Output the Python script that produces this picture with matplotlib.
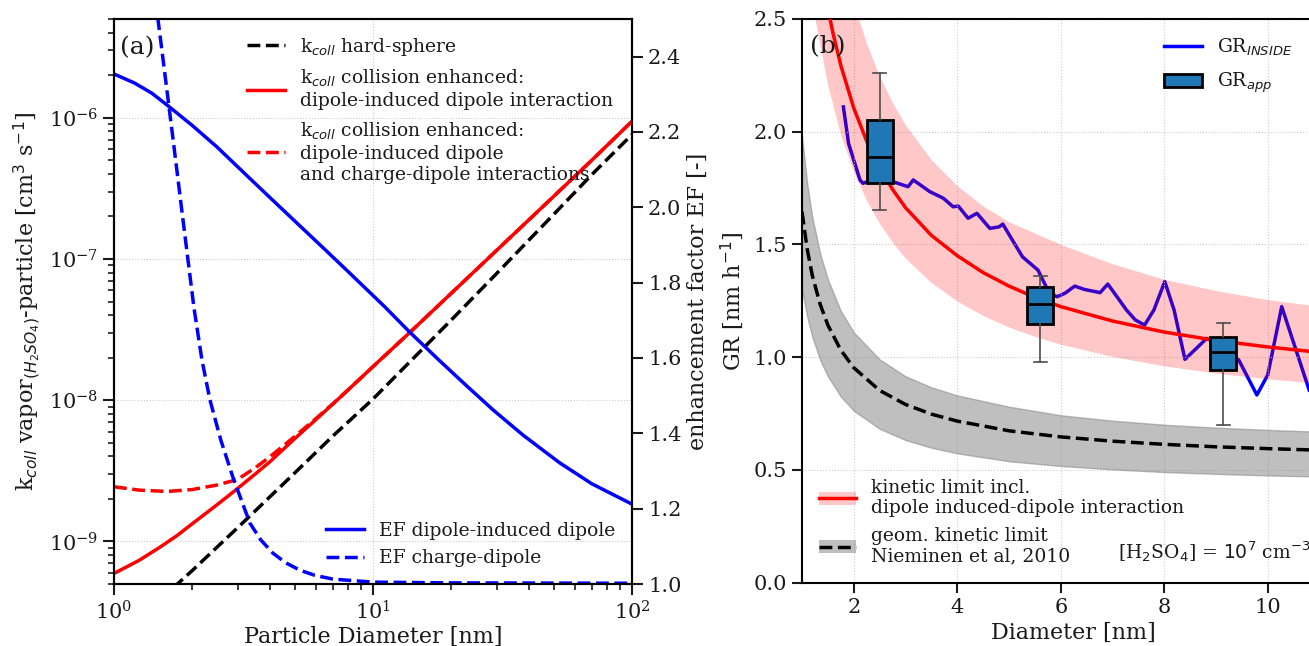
import matplotlib
matplotlib.use("Agg")
import matplotlib.pyplot as plt
from matplotlib.lines import Line2D
from matplotlib.patches import Patch

plt.rcParams['font.family'] = 'serif'
plt.rcParams['font.serif'] = ['DejaVu Serif']
plt.rcParams['mathtext.fontset'] = 'dejavusans'
plt.rcParams['axes.linewidth'] = 1.5
plt.rcParams['text.color'] = '0.1'
plt.rcParams['axes.labelcolor'] = '0.1'
plt.rcParams['xtick.color'] = '0.1'
plt.rcParams['ytick.color'] = '0.1'

# ---- panel (a): collision rate coefficients vs particle diameter ----
d_hs = [1.5, 2, 3, 5, 7, 10, 15, 20, 30, 50, 70, 100]
k_hard_sphere = [3.84e-10, 6.2e-10, 1.25e-9, 3.07e-9, 5.58e-9, 1.02e-8, 2.16e-8,
                 3.68e-8, 7.88e-8, 2.08e-7, 3.96e-7, 7.6e-7]

d_k = [1, 1.25, 1.5, 1.75, 2, 2.5, 2.93, 3.5, 4, 5, 6, 7, 8, 10, 13.8, 20, 30, 50,
       70, 100]
k_dipole = [5.94e-10, 7.35e-10, 9.08e-10, 1.10e-9, 1.33e-9, 1.82e-9, 2.29e-9,
            2.99e-9, 3.67e-9, 5.37e-9, 7.26e-9, 9.40e-9, 1.18e-8, 1.73e-8, 2.99e-8,
            5.69e-8, 1.15e-7, 2.79e-7, 5.01e-7, 9.44e-7]

d_kc = [1, 1.25, 1.6, 2, 2.5, 3, 3.5, 4, 5, 6, 7, 8, 10, 13.8, 20, 30, 50, 70, 100]
k_dipole_charge = [2.44e-9, 2.31e-9, 2.26e-9, 2.33e-9, 2.51e-9, 2.75e-9, 3.31e-9,
                   3.98e-9, 5.56e-9, 7.38e-9, 9.44e-9, 1.18e-8, 1.73e-8, 2.99e-8,
                   5.69e-8, 1.15e-7, 2.79e-7, 5.01e-7, 9.44e-7]

d_ef = [1, 1.2, 1.4, 1.6, 2, 2.5, 3.25, 4, 5, 6.5, 8, 11.1, 13.8, 18, 23, 29.1, 38,
        52.5, 70, 100]
ef_dipole = [2.354, 2.330, 2.303, 2.272, 2.218, 2.160, 2.085, 2.026, 1.963, 1.889,
             1.830, 1.736, 1.670, 1.594, 1.526, 1.462, 1.395, 1.322, 1.266, 1.212]

d_efc = [1.377, 1.478, 1.586, 1.703, 1.828, 2.036, 2.185, 2.346, 2.585, 2.876,
         3.345, 3.688, 4.105, 4.61, 5.21, 5.96, 7.0, 10, 19.8, 100]
ef_charge = [2.673, 2.5, 2.333, 2.163, 1.991, 1.733, 1.595, 1.489, 1.382, 1.284,
             1.162, 1.117, 1.082, 1.056, 1.037, 1.023, 1.013, 1.005, 1.003, 1.002]

# ---- panel (b): growth rates vs diameter ----
d_kin = [1.5, 1.6, 1.75, 2, 2.25, 2.5, 2.75, 3, 3.5, 4, 4.5, 5, 5.5, 6, 7, 8, 9,
         10, 11, 12]
gr_kin = [2.547, 2.436, 2.294, 2.105, 1.958, 1.84, 1.744, 1.663, 1.54, 1.45,
          1.375, 1.315, 1.265, 1.224, 1.16, 1.111, 1.074, 1.045, 1.021, 1.001]

d_band = [1.25, 1.5, 1.75, 2, 2.25, 2.5, 2.75, 3, 3.5, 4, 4.5, 5, 5.5, 6, 7, 8, 9,
          10, 11, 12]
gr_kin_up = [3.54, 3.11, 2.80, 2.57, 2.39, 2.245, 2.128, 2.03, 1.875, 1.76, 1.67,
             1.60, 1.55, 1.50, 1.414, 1.345, 1.295, 1.255, 1.225, 1.20]
gr_kin_lo = [2.5, 2.203, 1.984, 1.821, 1.694, 1.592, 1.509, 1.438, 1.33, 1.248,
             1.184, 1.133, 1.092, 1.057, 1.003, 0.961, 0.929, 0.904, 0.883, 0.866]

d_geo = [1.0, 1.1, 1.2, 1.35, 1.5, 1.75, 2, 2.5, 3, 3.5, 4, 5, 6, 7, 8, 9, 10, 11,
         12]
gr_geo = [1.645, 1.48, 1.361, 1.235, 1.142, 1.031, 0.953, 0.852, 0.79, 0.747, 0.716,
          0.673, 0.646, 0.627, 0.613, 0.602, 0.594, 0.587, 0.581]
gr_geo_up = [1.98, 1.77, 1.62, 1.46, 1.345, 1.205, 1.11, 0.99, 0.915, 0.866, 0.83,
             0.78, 0.742, 0.718, 0.70, 0.687, 0.677, 0.669, 0.662]
gr_geo_lo = [1.3, 1.18, 1.089, 0.988, 0.914, 0.825, 0.762, 0.682, 0.632, 0.598,
             0.573, 0.538, 0.517, 0.502, 0.49, 0.482, 0.475, 0.47, 0.465]

d_inside = [1.80, 1.9, 2.02, 2.12, 2.18, 2.31, 2.5, 2.76, 3.05, 3.15, 3.47, 3.73,
            3.92, 4.02, 4.21, 4.38, 4.63, 4.81, 4.88, 5.26, 5.56, 5.78, 5.93, 6.08,
            6.27, 6.46, 6.76, 6.91, 7.27, 7.44, 7.62, 7.8, 8.01, 8.19, 8.40, 8.82,
            9.1, 9.44, 9.79, 10.0, 10.27, 10.8]
gr_inside = [2.11, 1.948, 1.86, 1.786, 1.771, 1.783, 1.78, 1.778, 1.756, 1.786,
             1.734, 1.705, 1.667, 1.67, 1.616, 1.638, 1.571, 1.578, 1.59, 1.445,
             1.386, 1.283, 1.268, 1.283, 1.315, 1.30, 1.286, 1.324, 1.209, 1.165,
             1.142, 1.209, 1.335, 1.209, 0.99, 1.083, 1.05, 0.987, 0.832, 0.921,
             1.224, 0.854]

box_pos = [2.5, 5.6, 9.14]
box_med = [1.886, 1.234, 1.021]
box_q1 = [1.774, 1.147, 0.943]
box_q3 = [2.052, 1.312, 1.091]
box_lo = [1.653, 0.98, 0.699]
box_hi = [2.259, 1.361, 1.150]

fig = plt.figure(figsize=(13.09, 6.46), dpi=100)

# ---------------- (a) ----------------
ax = fig.add_axes([114 / 1309, 1 - 584 / 646, 518 / 1309, 565 / 646])
ax.plot(d_hs, k_hard_sphere, 'k--', lw=2.5, label='k$_{coll}$ hard-sphere')
ax.plot(d_k, k_dipole, color='red', lw=2.5,
        label='k$_{coll}$ collision enhanced:\ndipole-induced dipole interaction')
ax.plot(d_kc, k_dipole_charge, color='red', ls='--', lw=2.5,
        label='k$_{coll}$ collision enhanced:\ndipole-induced dipole\nand charge-dipole interactions')
ax.set_xscale('log')
ax.set_yscale('log')
ax.set_xlim(1, 100)
ax.set_ylim(5e-10, 5e-6)
ax.grid(True, which='major', ls=':', color='0.8', lw=0.8)
ax.set_xlabel('Particle Diameter [nm]', fontsize=16, labelpad=2)
ax.set_ylabel('k$_{coll}$ vapor$_{(H_2SO_4)}$-particle [cm$^3$ s$^{-1}$]', fontsize=16)
ax.tick_params(which='major', length=8, width=1.5, labelsize=15)
ax.tick_params(which='minor', length=4.5, width=1.2)
ax.text(0.012, 0.95, '(a)', transform=ax.transAxes, fontsize=18, va='center')
ax.legend(loc='upper left', bbox_to_anchor=(0.225, 1.0), frameon=False,
          fontsize=13.5, labelspacing=0.55)

ax2 = ax.twinx()
ax2.plot(d_ef, ef_dipole, color='blue', lw=2.5, label='EF dipole-induced dipole')
ax2.plot(d_efc, ef_charge, color='blue', ls='--', lw=2.5, label='EF charge-dipole')
ax2.set_ylim(1.0, 2.5)
ax2.set_yticks([1.0, 1.2, 1.4, 1.6, 1.8, 2.0, 2.2, 2.4])
ax2.set_ylabel('enhancement factor EF [-]', fontsize=16)
ax2.tick_params(length=8, width=1.5, labelsize=15)
ax2.legend(loc='lower right', frameon=False, fontsize=13.5)

# ---------------- (b) ----------------
bx = fig.add_axes([802 / 1309, 1 - 582.5 / 646, 10.5 * 51.75 / 1309, 563.5 / 646])
bx.plot(d_inside, gr_inside, color='blue', lw=2.5, zorder=1)
bx.fill_between(d_band, gr_kin_lo, gr_kin_up, color='red', alpha=0.22, lw=0, zorder=2)
bx.plot(d_kin, gr_kin, color='red', lw=2.5, zorder=3)
bx.fill_between(d_geo, gr_geo_lo, gr_geo_up, color='gray', alpha=0.5, zorder=2)
bx.plot(d_geo, gr_geo, 'k--', lw=2.5, zorder=3)

stats = [dict(med=m, q1=a, q3=b, whislo=lo, whishi=hi, fliers=[])
         for m, a, b, lo, hi in zip(box_med, box_q1, box_q3, box_lo, box_hi)]
bx.bxp(stats, positions=box_pos, widths=0.5, patch_artist=True, showfliers=False,
       manage_ticks=False, zorder=4,
       boxprops=dict(facecolor='#1f77b4', edgecolor='black', linewidth=2),
       medianprops=dict(color='black', linewidth=2),
       whiskerprops=dict(color='0.3', linewidth=1.2),
       capprops=dict(color='0.3', linewidth=1.2))

bx.set_xlim(1, 11.5)
bx.set_ylim(0, 2.5)
bx.set_xticks([2, 4, 6, 8, 10])
bx.set_yticks([0.0, 0.5, 1.0, 1.5, 2.0, 2.5])
bx.grid(True, ls=':', color='0.8', lw=0.8)
bx.set_xlabel('Diameter [nm]', fontsize=16)
bx.set_ylabel('GR [nm h$^{-1}$]', fontsize=16, labelpad=5)
bx.tick_params(length=7.5, width=1.5, labelsize=15)
bx.text(0.015, 0.95, '(b)', transform=bx.transAxes, fontsize=18, va='center')
bx.text(7.1, 0.137, '[H$_2$SO$_4$] = $10^7$ cm$^{-3}$', fontsize=13.5, va='center')

h_kin = (Patch(color='red', alpha=0.22, lw=0), Line2D([], [], color='red', lw=2.5))
h_geo = (Patch(color='gray', alpha=0.5, lw=0), Line2D([], [], color='k', ls='--', lw=2.5))
bx.legend([h_kin, h_geo],
          ['kinetic limit incl.\ndipole induced-dipole interaction',
           'geom. kinetic limit\nNieminen et al, 2010'],
          loc='lower left', frameon=False, fontsize=13.5)
fig.legend([Line2D([], [], color='blue', lw=2.5),
            Patch(facecolor='#1f77b4', edgecolor='black', lw=2)],
           ['GR$_{INSIDE}$', 'GR$_{app}$'],
           loc='upper right', bbox_to_anchor=(1.0, 0.97), frameon=False,
           fontsize=13.5, labelspacing=0.7)

fig.savefig('out.png', dpi=100)
